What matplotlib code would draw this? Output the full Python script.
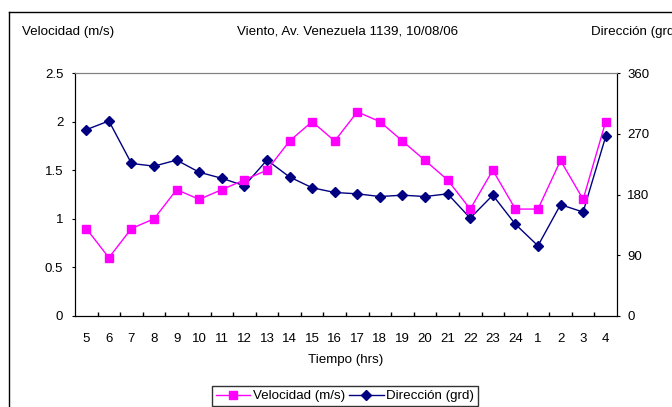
import matplotlib as mpl
mpl.use('Agg')
import matplotlib.pyplot as plt
from matplotlib.lines import Line2D
from matplotlib.ticker import FuncFormatter, FixedLocator

horas = ["5", "6", "7", "8", "9", "10", "11", "12", "13", "14", "15", "16",
         "17", "18", "19", "20", "21", "22", "23", "24", "1", "2", "3", "4"]
velocidad = [0.9, 0.6, 0.9, 1.0, 1.3, 1.2, 1.3, 1.4, 1.5, 1.8, 2.0, 1.8,
             2.1, 2.0, 1.8, 1.6, 1.4, 1.1, 1.5, 1.1, 1.1, 1.6, 1.2, 2.0]
direccion = [276, 289, 226, 222, 231, 213, 204, 193, 231, 206, 190, 183,
             181, 177, 179, 177, 181, 145, 179, 136, 104, 165, 154, 266]

plt.rcParams['font.family'] = ['Liberation Sans', 'DejaVu Sans']

W, H = 672, 407
fig = plt.figure(figsize=(W / 100, H / 100), dpi=100)

# frame of the chart object (cropped on the right and bottom)
fig.add_artist(Line2D([9 / W, 1], [1 - 12 / H, 1 - 12 / H], color='black', lw=1))
fig.add_artist(Line2D([9 / W, 9 / W], [0, 1 - 12 / H], color='black', lw=1))

ax = fig.add_axes([75 / W, (H - 316) / H, 542 / W, 243 / H])
ax2 = ax.twinx()
x = list(range(len(horas)))

l1, = ax.plot(x, velocidad, color='#ff00ff', marker='s', markersize=6, lw=1,
              label='Velocidad (m/s)')
l2, = ax2.plot(x, direccion, color='#000080', marker='D', markersize=5, lw=1,
               label='Dirección (grd)')
ax.set_zorder(ax2.get_zorder() + 1)
ax.patch.set_visible(False)

ax.set_xlim(-0.5, len(horas) - 0.5)
ax.set_ylim(0, 2.5)
ax2.set_ylim(0, 360)
ax.set_yticks([0, 0.5, 1, 1.5, 2, 2.5])
ax.yaxis.set_major_formatter(FuncFormatter(lambda v, p: '%g' % v))
ax2.set_yticks([0, 90, 180, 270, 360])

ax.set_xticks(x)
ax.set_xticklabels(horas)
ax.xaxis.set_minor_locator(FixedLocator([i + 0.5 for i in x[:-1]]))
ax.tick_params(axis='x', which='major', length=0, pad=12, labelsize=9.5)
ax.tick_params(axis='x', which='minor', direction='in', length=3, width=1)
ax.tick_params(axis='y', direction='out', length=2.5, pad=6, labelsize=9.5)
ax2.tick_params(axis='y', direction='out', length=2.5, pad=5, labelsize=9.5)

for a in (ax, ax2):
    a.spines['top'].set_color('#808080')
    a.spines['left'].set_color('black')
    a.spines['right'].set_color('black')
    a.spines['bottom'].set_color('black')

ax.set_xlabel('Tiempo (hrs)', fontsize=9.6, labelpad=7)

fig.text(22 / W, 1 - 32 / H, 'Velocidad (m/s)', fontsize=9.6, va='center', ha='left')
fig.text(348 / W, 1 - 32 / H, 'Viento, Av. Venezuela 1139, 10/08/06', fontsize=9.6,
         va='center', ha='center')
# this label runs past the right edge in the original picture too
fig.text(591 / W, 1 - 32 / H, 'Dirección (grd)', fontsize=9.6, va='center', ha='left')

leg = fig.legend(handles=[l1, l2], loc='center', bbox_to_anchor=(345 / W, 1 - 396 / H),
                 ncol=2, fontsize=9.6, frameon=True, fancybox=False, edgecolor='black',
                 handlelength=2.6, columnspacing=0.3, handletextpad=0.2,
                 borderpad=0.3, borderaxespad=0)
leg.get_frame().set_linewidth(1)

fig.savefig('out.png', dpi=100)
